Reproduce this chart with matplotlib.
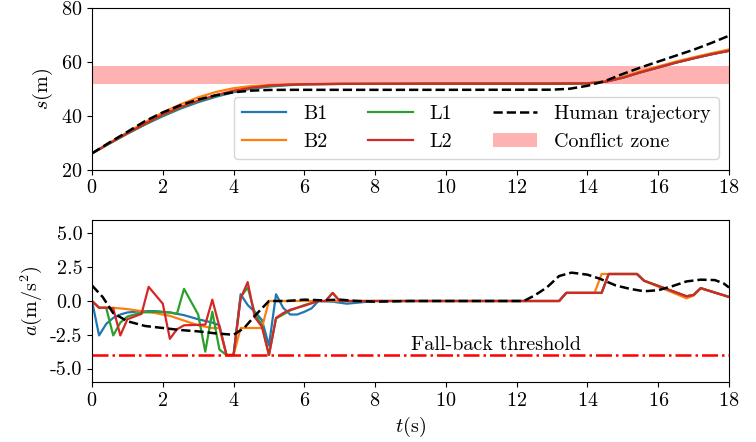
import numpy as np
import matplotlib
matplotlib.use("Agg")
import matplotlib.pyplot as plt
from matplotlib.patches import Patch

plt.rcParams["font.family"] = "serif"
plt.rcParams["font.serif"] = ["cmr10"]
plt.rcParams["mathtext.fontset"] = "cm"
plt.rcParams["axes.formatter.use_mathtext"] = True
plt.rcParams["font.size"] = 14.5
plt.rcParams["axes.unicode_minus"] = True

COLORS = {"B1": "#1f77b4", "B2": "#ff7f0e", "L1": "#2ca02c", "L2": "#d62728"}

# ---- position s(t) ----
S_T = [0, 0.5, 1, 1.5, 2, 2.5, 3, 3.5, 4, 4.5, 5, 5.5, 6, 7, 10, 13, 13.5, 14, 14.5,
       15, 15.5, 16, 16.5, 17, 17.5, 18]
S_B1 = [26, 29.7, 33.3, 36.7, 39.8, 42.6, 45.0, 47.0, 48.7, 50.0, 50.8, 51.3, 51.6, 51.8, 51.9, 51.9,
        51.95, 52.0, 52.6, 54.1, 56.1, 57.9, 59.7, 61.3, 62.8, 64.1]
S_B2 = [26, 29.9, 33.8, 37.6, 41.2, 44.2, 46.8, 48.8, 50.2, 51.0, 51.4, 51.6, 51.7, 51.8, 51.9, 51.9,
        51.95, 52.05, 52.8, 54.4, 56.5, 58.3, 60.1, 61.7, 63.2, 64.6]
S_L1 = [26, 29.7, 33.4, 36.8, 40.1, 42.9, 45.4, 47.4, 49.0, 50.2, 51.0, 51.4, 51.7, 51.8, 51.9, 51.9,
        51.95, 52.0, 52.6, 54.1, 56.1, 57.9, 59.7, 61.3, 62.8, 64.1]
S_L2 = [26, 29.8, 33.5, 37.0, 40.4, 43.2, 45.6, 47.6, 49.3, 50.4, 51.2, 51.5, 51.7, 51.8, 51.9, 51.9,
        51.95, 52.0, 52.6, 54.1, 56.1, 57.9, 59.7, 61.3, 62.8, 64.1]
S_HUMAN = [26, 30.1, 34.0, 38.0, 41.2, 43.9, 46.0, 47.6, 48.7, 49.3, 49.55, 49.6, 49.6, 49.6, 49.6,
           49.65, 50.0, 51.1, 52.9, 55.5, 57.9, 60.1, 62.3, 64.5, 67.0, 69.7]
ZONE = (51.8, 58.5)

# ---- acceleration a(t) ----
TAIL_T = [7.0, 8.0, 13.2, 13.4, 14.4, 14.6, 15.4, 15.6, 16.8, 17.0, 17.2, 18.0]
TAIL_A = [0.0, 0.0, 0.0, 0.6, 0.6, 2.0, 2.0, 1.5, 0.35, 0.45, 0.95, 0.3]

A_B1_T = [0, 0.2, 0.4, 0.6, 0.8, 1.0, 1.4, 1.8, 2.2, 2.6, 3.0, 3.4, 3.6, 3.8, 4.0, 4.2, 4.4, 4.6,
          4.8, 5.0, 5.2, 5.4, 5.6, 5.8, 6.0, 6.2, 6.4, 6.8, 7.2, 7.6] + TAIL_T[1:]
A_B1 = [0, -2.55, -1.7, -1.25, -1.0, -0.85, -0.75, -0.75, -0.85, -1.05, -1.35, -1.6, -1.8, -4.0,
        -4.0, 0.5, -0.3, -0.8, -1.4, -3.3, 0.5, -0.5, -1.0, -1.0, -0.8, -0.55, 0.0, -0.05, -0.2,
        -0.1] + TAIL_A[1:]

A_B2_T = [0, 0.2, 0.6, 1.0, 1.4, 1.8, 2.2, 2.6, 3.0, 3.4, 3.6, 3.8, 4.0, 4.2, 4.8, 5.0, 13.2, 13.4,
          14.2, 14.4, 15.4, 15.6, 16.8, 17.0, 17.2, 18.0]
A_B2 = [0, -0.5, -0.5, -0.6, -0.75, -0.9, -1.1, -1.45, -1.8, -2.0, -2.0, -4.0, -4.0, -2.0, -2.0,
        0.0, 0.0, 0.6, 0.6, 2.0, 2.0, 1.5, 0.2, 0.4, 0.95, 0.3]

A_L1_T = [0, 0.2, 0.4, 0.6, 0.8, 1.0, 1.4, 1.8, 2.2, 2.4, 2.6, 3.0, 3.2, 3.4, 3.6, 3.8, 4.0, 4.2,
          4.4, 4.6, 4.8, 5.0, 5.2, 5.6, 6.0, 6.4, 6.6, 6.8] + TAIL_T
A_L1 = [0, -0.5, -0.5, -2.55, -1.6, -1.15, -0.85, -0.8, -0.85, -0.95, 0.9, -1.0, -3.75, -0.8, -3.6,
        -4.0, -4.0, 0.3, 1.0, -0.9, -1.8, -4.0, -1.3, -0.7, -0.3, 0.0, 0.0, 0.6] + TAIL_A

A_L2_T = [0, 0.2, 0.4, 0.6, 0.8, 1.0, 1.4, 1.6, 2.0, 2.2, 2.4, 2.6, 3.2, 3.4, 3.6, 3.8, 4.0, 4.2,
          4.4, 4.6, 4.8, 5.0, 5.2, 5.4, 5.6, 6.0, 6.4, 6.6, 6.8] + TAIL_T
A_L2 = [0, -0.5, -0.5, -0.55, -2.55, -1.35, -0.95, 1.05, -0.2, -2.8, -2.1, -1.8, -1.75, 0.1, -1.9,
        -4.0, -4.0, 0.2, 1.4, -1.2, -1.9, -4.0, -1.25, -0.9, -0.65, -0.35, 0.0, 0.0, 0.6] + TAIL_A

A_HUMAN_T = [0, 0.3, 0.6, 1.0, 1.5, 2.0, 2.5, 3.0, 3.5, 4.0, 4.3, 4.6, 5.0, 5.5, 6.0, 6.5, 7.0, 7.5,
             8.0, 9.0, 10, 11, 12, 12.2, 12.5, 12.85, 13.2, 13.55, 14.0, 14.35, 14.8, 15.2, 15.6,
             16.0, 16.4, 16.8, 17.2, 17.6, 17.85, 18.0]
A_HUMAN = [1.15, 0.3, -0.9, -1.5, -1.85, -2.0, -2.15, -2.25, -2.4, -2.5, -2.0, -1.1, 0.0, 0.0, 0.1,
           0.05, 0.1, 0.0, -0.05, 0.0, 0.0, 0.0, 0.0, 0.0, 0.4, 1.0, 1.85, 2.1, 1.95, 1.65, 1.15,
           0.9, 0.72, 0.8, 1.1, 1.45, 1.58, 1.55, 1.3, 1.0]
THRESHOLD = -4.0

fig = plt.figure(figsize=(7.56, 4.42), dpi=100)
ax1 = fig.add_axes([0.1217, 0.6165, 0.8426, 0.3654])
ax2 = fig.add_axes([0.1217, 0.1357, 0.8426, 0.3666])

# top: positions
ax1.axhspan(ZONE[0], ZONE[1], color="red", alpha=0.3, lw=0)
ax1.plot(S_T, S_B1, color=COLORS["B1"], lw=1.6)
ax1.plot(S_T, S_B2, color=COLORS["B2"], lw=1.6)
ax1.plot(S_T, S_L1, color=COLORS["L1"], lw=1.6)
ax1.plot(S_T, S_L2, color=COLORS["L2"], lw=1.6)
ax1.plot(S_T, S_HUMAN, color="black", ls="--", lw=1.8)
ax1.set_xlim(0, 18)
ax1.set_ylim(20, 80)
ax1.set_xticks(range(0, 19, 2))
ax1.set_yticks([20, 40, 60, 80])
ax1.set_ylabel(r"$s$(m)")

handles = [
    plt.Line2D([], [], color=COLORS["B1"], lw=1.6),
    plt.Line2D([], [], color=COLORS["B2"], lw=1.6),
    plt.Line2D([], [], color=COLORS["L1"], lw=1.6),
    plt.Line2D([], [], color=COLORS["L2"], lw=1.6),
    plt.Line2D([], [], color="black", ls="--", lw=1.8),
    Patch(facecolor="red", alpha=0.3, lw=0),
]
labels = ["B1", "B2", "L1", "L2", "Human trajectory", "Conflict zone"]
ax1.legend(handles, labels, ncol=3, loc="lower right", fontsize=14.5,
           handlelength=2.2, handletextpad=0.85, columnspacing=2.0)

# bottom: accelerations
ax2.plot(A_B1_T, A_B1, color=COLORS["B1"], lw=1.6)
ax2.plot(A_B2_T, A_B2, color=COLORS["B2"], lw=1.6)
ax2.plot(A_L1_T, A_L1, color=COLORS["L1"], lw=1.6)
ax2.plot(A_L2_T, A_L2, color=COLORS["L2"], lw=1.6)
ax2.plot(A_HUMAN_T, A_HUMAN, color="black", ls="--", lw=1.8)
ax2.axhline(THRESHOLD, color="red", ls="-.", lw=1.8)
ax2.text(9.0, THRESHOLD + 0.05, "Fall-back threshold", ha="left", va="bottom")
ax2.set_xlim(0, 18)
ax2.set_ylim(-6, 6)
ax2.set_xticks(range(0, 19, 2))
ax2.set_yticks([-5.0, -2.5, 0.0, 2.5, 5.0])
ax2.yaxis.set_major_formatter(matplotlib.ticker.FormatStrFormatter("%.1f"))
ax2.set_xlabel(r"$t$(s)")
ax2.set_ylabel(r"$a$(m/s$^2$)")

fig.savefig("out.png", dpi=100)
